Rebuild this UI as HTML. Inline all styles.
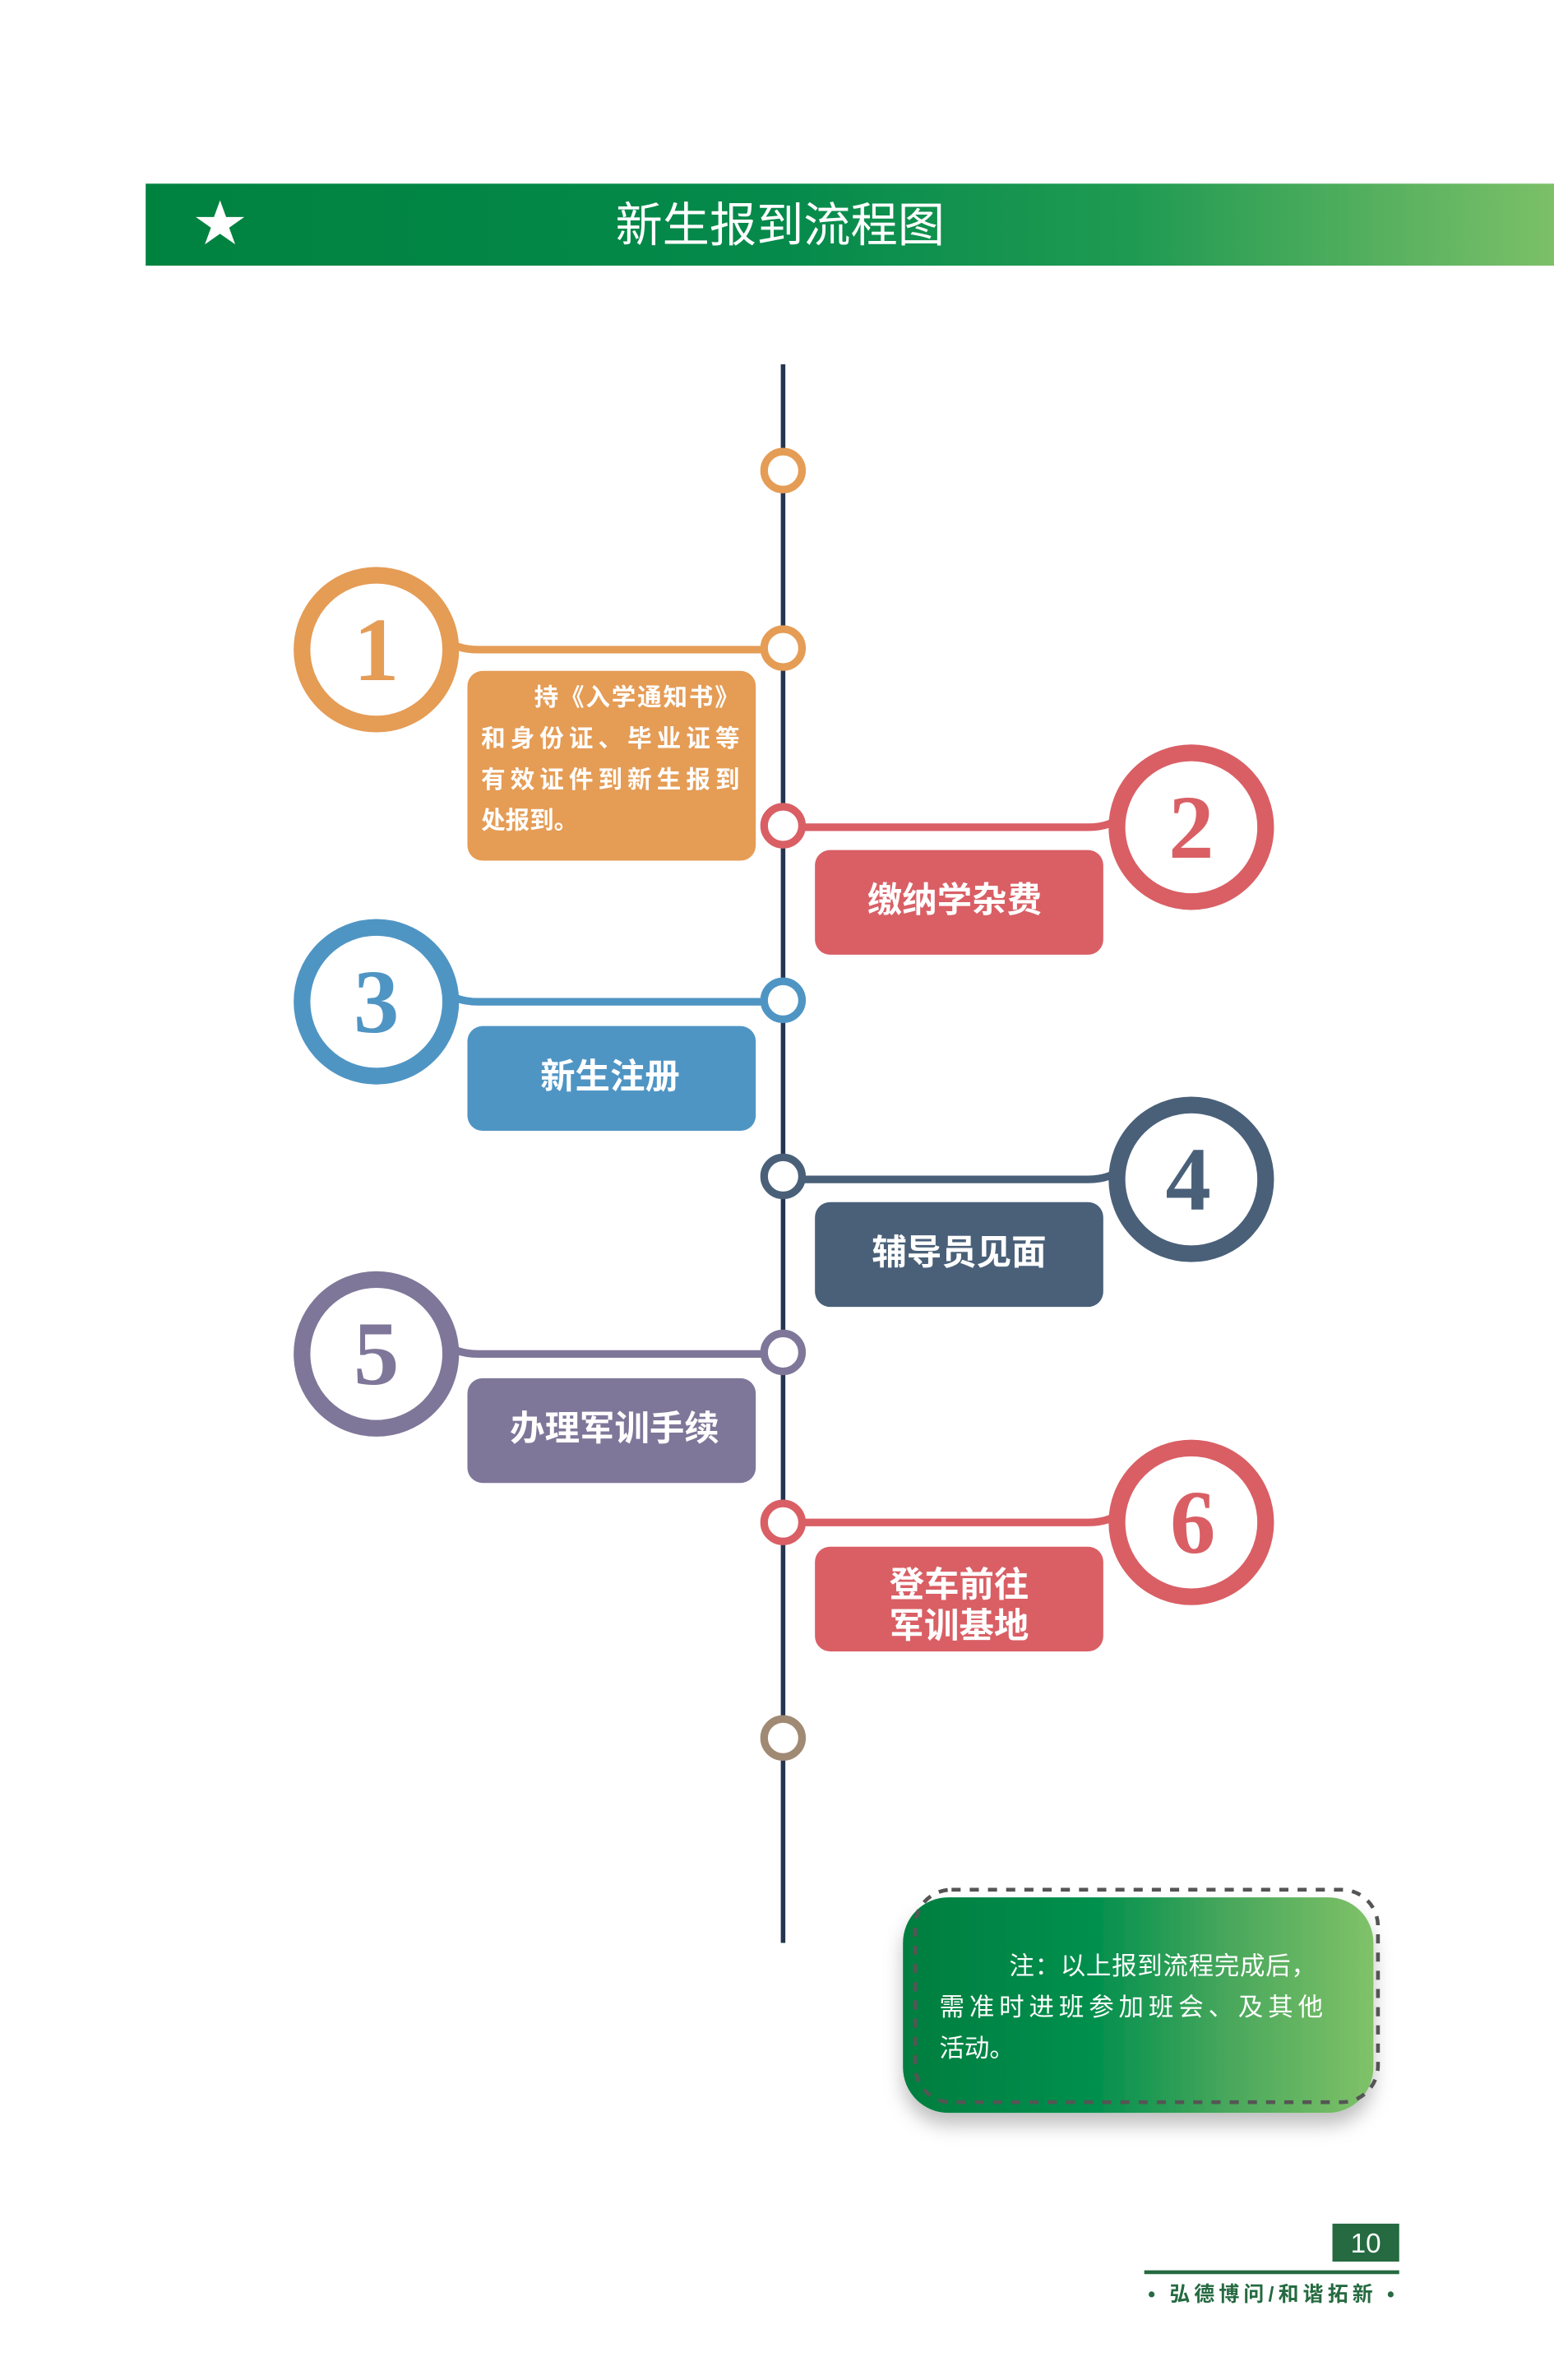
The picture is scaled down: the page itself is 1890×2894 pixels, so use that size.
<!DOCTYPE html>
<html><head><meta charset="utf-8"><style>
html,body{margin:0;padding:0;background:#fff;}
svg{display:block;}
text{font-family:"Liberation Sans","Noto Sans CJK SC",sans-serif;}
.num{font-family:"Liberation Serif","Noto Serif CJK SC",serif;font-weight:bold;font-size:60px;text-anchor:middle;}
.bt{fill:#fff;font-weight:bold;font-size:23px;text-anchor:middle;}
</style></head><body>
<svg width="1890" height="2894" viewBox="0 0 1024 1568" preserveAspectRatio="none" xmlns="http://www.w3.org/2000/svg">
<defs>
<linearGradient id="hg" x1="0" x2="1" y1="0" y2="0">
<stop offset="0" stop-color="#00823f"/><stop offset="0.45" stop-color="#058a4b"/><stop offset="0.7" stop-color="#1f9a52"/><stop offset="1" stop-color="#7cc068"/>
</linearGradient>
<linearGradient id="ng" x1="0" x2="1" y1="0" y2="0">
<stop offset="0" stop-color="#007e3f"/><stop offset="0.4" stop-color="#008f4d"/><stop offset="0.7" stop-color="#4aa85c"/><stop offset="1" stop-color="#80c268"/>
</linearGradient>
<filter id="sh" x="-20%" y="-20%" width="140%" height="150%"><feDropShadow dx="0" dy="8" stdDeviation="6" flood-color="#000" flood-opacity="0.25"/></filter>
</defs>
<rect x="96" y="121" width="928" height="54" fill="url(#hg)"/>
<polygon points="145,132 149,143 161,143 151,150 155,161 145,154 135,161 139,150 129,143 141,143" fill="#fff"/>
<text x="514" y="159" fill="#fff" font-size="31" text-anchor="middle">新生报到流程图</text>
<line x1="516" y1="240" x2="516" y2="1280" stroke="#253550" stroke-width="3"/>
<g stroke-width="5" fill="none">
<path d="M292,420 Q300,428 315,428 L503,428" stroke="#e59c55"/>
<path d="M740,537 Q732,545 717,545 L529,545" stroke="#d95f65"/>
<path d="M292,652 Q300,660 315,660 L503,660" stroke="#4f95c4"/>
<path d="M740,769 Q732,777 717,777 L529,777" stroke="#4a6079"/>
<path d="M292,884 Q300,892 315,892 L503,892" stroke="#7f7799"/>
<path d="M740,995 Q732,1003 717,1003 L529,1003" stroke="#d95f65"/>
</g>
<g fill="#fff" stroke-width="5">
<circle cx="516" cy="310" r="12.5" stroke="#e59c55"/>
<circle cx="516" cy="427" r="12.5" stroke="#e59c55"/>
<circle cx="516" cy="544" r="12.5" stroke="#d95f65"/>
<circle cx="516" cy="659" r="12.5" stroke="#4f95c4"/>
<circle cx="516" cy="775" r="12.5" stroke="#4a6079"/>
<circle cx="516" cy="891" r="12.5" stroke="#7f7799"/>
<circle cx="516" cy="1003" r="12.5" stroke="#d95f65"/>
<circle cx="516" cy="1145" r="12.5" stroke="#a08a74"/>
</g>
<g fill="#fff" stroke-width="11">
<circle cx="248" cy="428" r="49" stroke="#e59c55"/>
<circle cx="785" cy="545" r="49" stroke="#d95f65"/>
<circle cx="248" cy="660" r="49" stroke="#4f95c4"/>
<circle cx="785" cy="777" r="49" stroke="#4a6079"/>
<circle cx="248" cy="892" r="49" stroke="#7f7799"/>
<circle cx="785" cy="1003" r="49" stroke="#d95f65"/>
</g>
<text class="num" x="248" y="448" fill="#e59c55">1</text>
<text class="num" x="785" y="565" fill="#d95f65">2</text>
<text class="num" x="248" y="680" fill="#4f95c4">3</text>
<text class="num" x="783" y="797" fill="#4a6079">4</text>
<text class="num" x="248" y="912" fill="#7f7799">5</text>
<text class="num" x="786" y="1023" fill="#d95f65">6</text>
<rect x="308" y="442" width="190" height="125" rx="10" fill="#e59c55"/>
<rect x="537" y="560" width="190" height="69" rx="10" fill="#d95f65"/>
<rect x="308" y="676" width="190" height="69" rx="10" fill="#4f95c4"/>
<rect x="537" y="792" width="190" height="69" rx="10" fill="#4a6079"/>
<rect x="308" y="908" width="190" height="69" rx="10" fill="#7f7799"/>
<rect x="537" y="1019" width="190" height="69" rx="10" fill="#d95f65"/>
<g fill="#fff" font-weight="bold" font-size="16">
<text x="352" y="465" letter-spacing="1">持《入学通知书》</text>
<text x="317" y="492" letter-spacing="3.3">和身份证、毕业证等</text>
<text x="317" y="519" letter-spacing="3.3">有效证件到新生报到</text>
<text x="317" y="546">处报到。</text>
</g>
<text class="bt" x="629" y="601">缴纳学杂费</text>
<text class="bt" x="402" y="717">新生注册</text>
<text class="bt" x="632" y="833">辅导员见面</text>
<text class="bt" x="405" y="949">办理军训手续</text>
<text class="bt" x="632" y="1052">登车前往</text>
<text class="bt" x="632" y="1079">军训基地</text>
<rect x="595" y="1250" width="310" height="142" rx="30" fill="url(#ng)" filter="url(#sh)"/>
<rect x="603" y="1245" width="305" height="140" rx="24" fill="none" stroke="#555" stroke-width="2.5" stroke-dasharray="6,6"/>
<g fill="#fff" font-size="16.5">
<text x="665" y="1301" letter-spacing="0.4">注：以上报到流程完成后，</text>
<text x="619" y="1328" letter-spacing="3.2">需准时进班参加班会、及其他</text>
<text x="619" y="1355">活动。</text>
</g>
<rect x="878" y="1465" width="44" height="25" fill="#256a40"/>
<text x="900" y="1484" fill="#fff" font-size="18" text-anchor="middle">10</text>
<line x1="754" y1="1497" x2="922" y2="1497" stroke="#256a40" stroke-width="2.5"/>
<text x="839" y="1516" fill="#256a40" font-size="13.5" text-anchor="middle" font-weight="bold" letter-spacing="2.8">• 弘德博问/和谐拓新 •</text>
</svg>
</body></html>
